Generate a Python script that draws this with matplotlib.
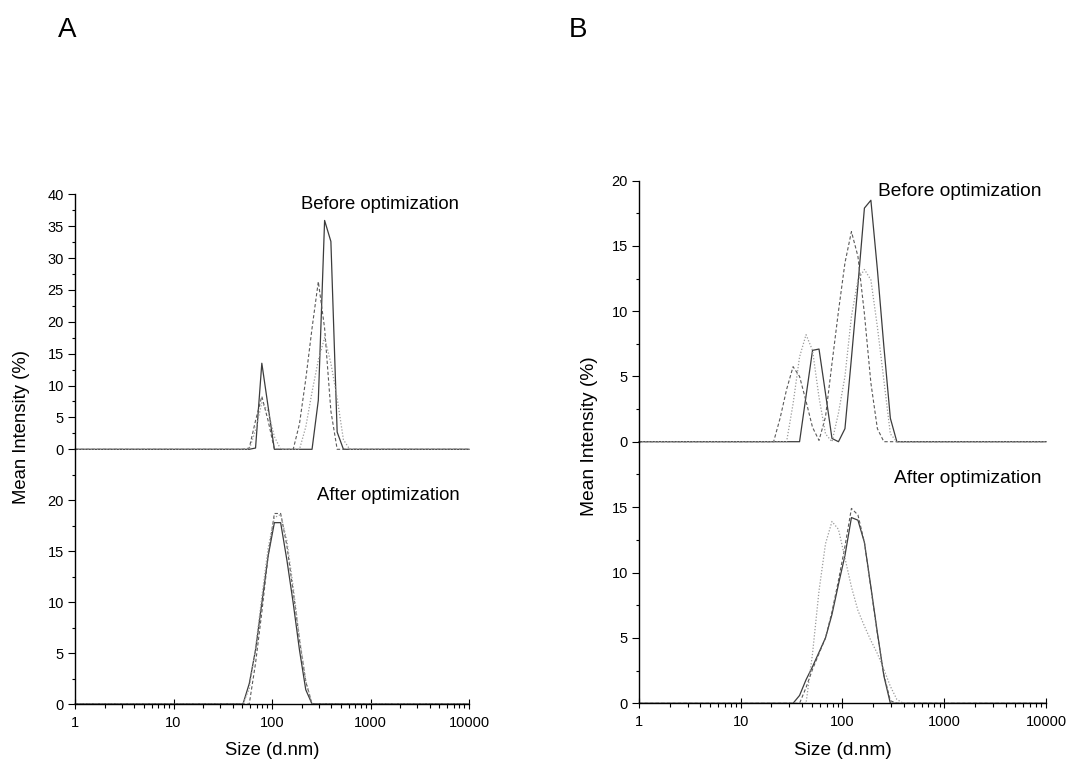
import matplotlib
matplotlib.use("Agg")
import matplotlib.pyplot as plt
from matplotlib.ticker import FixedLocator, LogLocator, NullFormatter, FuncFormatter

plt.rcParams["font.family"] = ["Liberation Sans", "DejaVu Sans"]

# size bins (nm) shared by every distribution, padded with the axis ends
SIZE_NM = [1.0, 21.04, 24.36, 28.21, 32.67, 37.84, 43.82, 50.75, 58.77, 68.06,
           78.82, 91.28, 105.7, 122.4, 141.8, 164.2, 190.1, 220.2, 255.0, 295.3,
           342.0, 396.1, 458.7, 531.2, 615.1, 712.4, 10000.0]

# panel A, before optimization (three runs)
a_before_run1 = [0, 0, 0, 0, 0, 0, 0, 0, 0, 0.2, 13.5, 6.7, 0, 0, 0, 0, 0, 0, 0,
                 7.7, 35.9, 32.6, 2.7, 0, 0, 0, 0]
a_before_run2 = [0, 0, 0, 0, 0, 0, 0, 0, 0.2, 4.5, 8.3, 4.5, 0, 0, 0, 0, 4.0, 11.0,
                 19.0, 26.3, 19.0, 6.0, 0, 0, 0, 0, 0]
a_before_run3 = [0, 0, 0, 0, 0, 0, 0, 0, 0, 3.0, 7.3, 6.0, 2.0, 0, 0, 0, 0, 3.5,
                 9.0, 14.0, 17.5, 13.5, 8.0, 1.5, 0, 0, 0]

# panel A, after optimization
a_after_run1 = [0, 0, 0, 0, 0, 0, 0, 0, 2.0, 5.3, 9.9, 14.5, 17.8, 17.8, 14.1, 9.9,
                5.3, 1.4, 0, 0, 0, 0, 0, 0, 0, 0, 0]
a_after_run2 = [0, 0, 0, 0, 0, 0, 0, 0, 0, 4.0, 9.0, 14.5, 18.7, 18.7, 15.5, 11.0,
                6.3, 2.2, 0, 0, 0, 0, 0, 0, 0, 0, 0]
a_after_run3 = [0, 0, 0, 0, 0, 0, 0, 0, 1.5, 5.5, 10.5, 15.3, 18.3, 18.6, 16.0, 11.5,
                6.5, 2.3, 0, 0, 0, 0, 0, 0, 0, 0, 0]

# panel B, before optimization
b_before_run1 = [0, 0, 0, 0, 0, 0, 3.5, 7.0, 7.1, 3.7, 0.25, 0, 1.0, 6.4, 12.0,
                 17.9, 18.5, 13.2, 7.3, 1.8, 0, 0, 0, 0, 0, 0, 0]
b_before_run2 = [0, 0, 1.8, 4.0, 5.75, 5.0, 3.1, 1.1, 0.1, 1.9, 6.0, 10.0, 13.7,
                 16.1, 14.2, 9.8, 4.5, 1.0, 0, 0, 0, 0, 0, 0, 0, 0, 0]
b_before_run3 = [0, 0, 0, 0, 2.9, 6.5, 8.2, 7.0, 3.4, 0.6, 0, 2.2, 5.0, 9.6, 12.4,
                 13.2, 12.4, 8.8, 4.7, 0.6, 0, 0, 0, 0, 0, 0, 0]

# panel B, after optimization
b_after_run1 = [0, 0, 0, 0, 0, 0.6, 1.8, 2.8, 3.9, 5.0, 6.8, 9.1, 11.3, 14.2, 14.0,
                12.3, 8.9, 5.4, 2.1, 0, 0, 0, 0, 0, 0, 0, 0]
b_after_run2 = [0, 0, 0, 0, 0, 0, 1.2, 2.6, 3.8, 5.0, 7.0, 9.4, 12.0, 14.9, 14.4,
                12.3, 8.8, 5.3, 2.2, 0.2, 0, 0, 0, 0, 0, 0, 0]
b_after_run3 = [0, 0, 0, 0, 0, 0, 0, 3.8, 8.6, 12.2, 13.9, 13.3, 11.1, 8.9, 7.1,
                5.9, 4.8, 3.8, 2.6, 1.3, 0.3, 0, 0, 0, 0, 0, 0]

STYLES = [
    dict(color="#3c3c3c", linestyle="-", linewidth=0.9),
    dict(color="#5a5a5a", linestyle=(0, (3, 2)), linewidth=0.8),
    dict(color="#9a9a9a", linestyle=(0, (1, 1.5)), linewidth=0.9),
]


def style_y(ax, majors, minors):
    ax.set_yticks(majors)
    ax.yaxis.set_minor_locator(FixedLocator(minors))
    ax.tick_params(axis="y", which="major", direction="out", length=5, width=0.8,
                   labelsize=10.5, pad=3)
    ax.tick_params(axis="y", which="minor", direction="out", length=2.5, width=0.8)


def draw_runs(ax, runs):
    for vals, st in zip(runs, STYLES):
        ax.plot(SIZE_NM, vals, clip_on=False, **st)
    ax.set_xscale("log")
    ax.set_xlim(1, 10000)
    ax.patch.set_alpha(0)
    for side in ("top", "right"):
        ax.spines[side].set_visible(False)


def panel(rect_top, rect_bot, before, after, top_max, top_step, bot_max, bot_labels,
          text_size, note_x, before_y, after_y):
    top = fig.add_axes(rect_top)
    draw_runs(top, before)
    top.set_ylim(0, top_max)
    top.spines["bottom"].set_visible(False)
    top.xaxis.set_visible(False)
    style_y(top, list(range(0, top_max + 1, top_step)),
            [v + top_step / 2 for v in range(0, top_max, top_step)])
    top.text(note_x, before_y, "Before optimization", transform=top.transAxes,
             ha="right", va="center", fontsize=text_size)

    bot = fig.add_axes(rect_bot)
    draw_runs(bot, after)
    bot.set_ylim(0, bot_max)
    style_y(bot, bot_labels, [v + 2.5 for v in range(0, bot_max - 2, 5)])
    bot.text(note_x, after_y, "After optimization", transform=bot.transAxes,
             ha="right", va="center", fontsize=text_size)
    bot.xaxis.set_major_locator(LogLocator(base=10, numticks=10))
    bot.xaxis.set_minor_locator(LogLocator(base=10, subs=range(2, 10), numticks=10))
    bot.xaxis.set_minor_formatter(NullFormatter())
    bot.xaxis.set_major_formatter(FuncFormatter(lambda v, p: f"{v:g}"))
    bot.tick_params(axis="x", which="major", direction="inout", length=7, width=0.8,
                    labelsize=10.5, pad=5)
    bot.tick_params(axis="x", which="minor", direction="out", length=3, width=0.8)
    bot.set_xlabel("Size (d.nm)", fontsize=text_size, labelpad=9)
    for ax in (top, bot):
        ax.spines["left"].set_linewidth(1.0)
    bot.spines["bottom"].set_linewidth(1.0)
    return top, bot


fig = plt.figure(figsize=(10.69, 7.61), dpi=100)

W, H = 1069, 761


def rect(x0, y_top, x1, y_bot):
    return [x0 / W, 1 - y_bot / H, (x1 - x0) / W, (y_bot - y_top) / H]


panel(rect(75, 194.3, 469, 449.3), rect(75, 449.3, 469, 704),
      [a_before_run1, a_before_run2, a_before_run3],
      [a_after_run1, a_after_run2, a_after_run3],
      40, 5, 25, [0, 5, 10, 15, 20], 13.3, 0.975, 0.96, 0.82)

panel(rect(639, 180.7, 1046, 441.7), rect(639, 441.7, 1046, 703.3),
      [b_before_run1, b_before_run2, b_before_run3],
      [b_after_run1, b_after_run2, b_after_run3],
      20, 5, 20, [0, 5, 10, 15], 13.8, 0.99, 0.96, 0.86)

fig.text(22 / W, 1 - 427 / H, "Mean Intensity (%)", rotation=90, ha="center",
         va="center", fontsize=13.3)
fig.text(590 / W, 1 - 436 / H, "Mean Intensity (%)", rotation=90, ha="center",
         va="center", fontsize=13.8)

fig.text(67 / W, 1 - 30 / H, "A", ha="center", va="center", fontsize=20)
fig.text(578 / W, 1 - 30 / H, "B", ha="center", va="center", fontsize=20)

fig.savefig("out.png", dpi=100, facecolor="white")
